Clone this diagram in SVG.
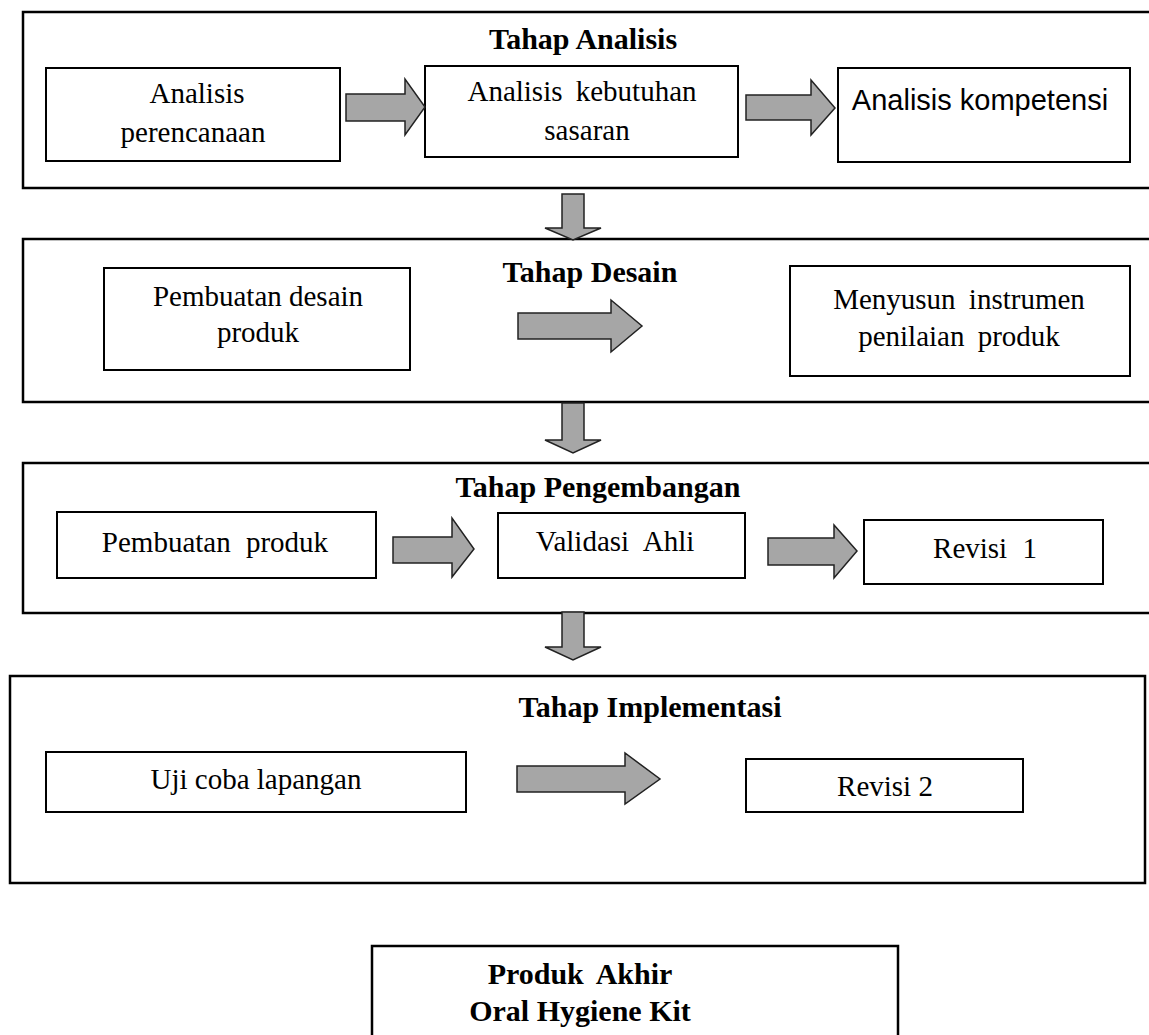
<svg xmlns="http://www.w3.org/2000/svg" width="1149" height="1035" viewBox="0 0 1149 1035">
  <style>
    .frame { fill: #ffffff; stroke: #000000; stroke-width: 2.5; }
    .box { fill: #ffffff; stroke: #000000; stroke-width: 2; }
    .arrow { fill: #a6a6a6; stroke: #222222; stroke-width: 1.5; stroke-linejoin: miter; }
    .title { font-family: "Liberation Serif", "Times New Roman", serif; font-weight: bold; font-size: 30px; fill: #000; text-anchor: middle; }
    .txt { font-family: "Liberation Serif", "Times New Roman", serif; font-size: 29px; fill: #000; text-anchor: middle; }
    .sans { font-family: "Liberation Sans", Arial, sans-serif; font-size: 29px; fill: #000; text-anchor: middle; }
  </style>
  <rect width="1149" height="1035" fill="#ffffff"/>

  <!-- Stage frames -->
  <g id="stage-analisis">
    <rect class="frame" x="23" y="12" width="1130" height="176"/>
    <text class="title" x="583" y="49">Tahap Analisis</text>
  </g>
  <g id="stage-desain">
    <rect class="frame" x="23" y="239" width="1130" height="163"/>
    <text class="title" x="590" y="282">Tahap Desain</text>
  </g>
  <g id="stage-pengembangan">
    <rect class="frame" x="23" y="463" width="1130" height="150"/>
    <text class="title" x="598" y="497">Tahap Pengembangan</text>
  </g>
  <g id="stage-implementasi">
    <rect class="frame" x="10" y="676" width="1135" height="207"/>
    <text class="title" x="650" y="717">Tahap Implementasi</text>
  </g>

  <!-- Nodes -->
  <g id="analisis-perencanaan">
    <rect class="box" x="46" y="68" width="294" height="93"/>
    <text class="txt" x="197" y="103">Analisis</text>
    <text class="txt" x="193" y="142">perencanaan</text>
  </g>
  <g id="analisis-kebutuhan">
    <rect class="box" x="425" y="66" width="313" height="91"/>
    <text class="txt" x="582" y="101" word-spacing="6">Analisis kebutuhan</text>
    <text class="txt" x="587" y="140">sasaran</text>
  </g>
  <g id="analisis-kompetensi">
    <rect class="box" x="838" y="68" width="292" height="94"/>
    <text class="sans" x="980" y="110">Analisis kompetensi</text>
  </g>

  <g id="pembuatan-desain">
    <rect class="box" x="104" y="268" width="306" height="102"/>
    <text class="txt" x="258" y="306">Pembuatan desain</text>
    <text class="txt" x="258" y="342">produk</text>
  </g>
  <g id="menyusun-instrumen">
    <rect class="box" x="790" y="266" width="340" height="110"/>
    <text class="txt" x="959" y="309" word-spacing="6">Menyusun instrumen</text>
    <text class="txt" x="959" y="346" word-spacing="6">penilaian produk</text>
  </g>

  <g id="pembuatan-produk">
    <rect class="box" x="57" y="512" width="319" height="66"/>
    <text class="txt" x="215" y="552" word-spacing="8">Pembuatan produk</text>
  </g>
  <g id="validasi-ahli">
    <rect class="box" x="498" y="513" width="247" height="65"/>
    <text class="txt" x="615" y="551" word-spacing="8">Validasi Ahli</text>
  </g>
  <g id="revisi-1">
    <rect class="box" x="864" y="520" width="239" height="64"/>
    <text class="txt" x="985" y="558" word-spacing="8">Revisi 1</text>
  </g>

  <g id="uji-coba">
    <rect class="box" x="46" y="752" width="420" height="60"/>
    <text class="txt" x="256" y="789">Uji coba lapangan</text>
  </g>
  <g id="revisi-2">
    <rect class="box" x="746" y="759" width="277" height="53"/>
    <text class="txt" x="885" y="796">Revisi 2</text>
  </g>

  <g id="produk-akhir">
    <rect class="frame" x="372" y="946" width="526" height="100"/>
    <text class="title" x="580" y="984" word-spacing="6">Produk Akhir</text>
    <text class="title" x="580" y="1021">Oral Hygiene Kit</text>
  </g>

  <!-- Connectors: block arrows -->
  <g id="connectors">
    <polygon class="arrow" points="346,94 405,94 405,79 425,107 405,135 405,121 346,121"/>
    <polygon class="arrow" points="746,95 811,95 811,80 835,108 811,135 811,120 746,120"/>

    <polygon class="arrow" points="518,313 611,313 611,300 642,326 611,352 611,339 518,339"/>

    <polygon class="arrow" points="393,537 452,537 452,518 474,549 452,577 452,563 393,563"/>
    <polygon class="arrow" points="768,538 834,538 834,525 857,551 834,578 834,565 768,565"/>

    <polygon class="arrow" points="517,766 625,766 625,753 660,779 625,804 625,792 517,792"/>

    <polygon class="arrow" points="562,194 584,194 584,228 601,228 573,240 545,228 562,228"/>
    <polygon class="arrow" points="562,403 584,403 584,440 601,440 573,453 545,440 562,440"/>
    <polygon class="arrow" points="562,612 584,612 584,647 601,647 573,660 545,647 562,647"/>
  </g>
</svg>
